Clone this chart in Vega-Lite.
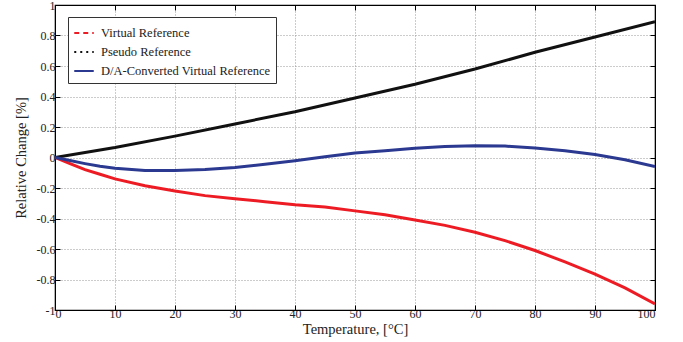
{
  "$schema": "https://vega.github.io/schema/vega-lite/v6.json",
  "width": 600,
  "height": 305,
  "autosize": "none",
  "padding": {"left": 55, "top": 5, "right": 28, "bottom": 32},
  "background": "white",
  "config": {
    "font": "Liberation Serif",
    "view": {"stroke": "#000", "strokeWidth": 1.2},
    "axis": {
      "labelFont": "Liberation Serif", "titleFont": "Liberation Serif",
      "labelFontSize": 12, "titleFontSize": 14.5, "titleFontWeight": "normal",
      "labelColor": "#222", "titleColor": "#222",
      "domainColor": "#000", "tickColor": "#000", "tickSize": -5,
      "gridColor": "#999", "gridDash": [1, 2], "gridWidth": 1
    },
    "legend": {
      "title": null, "orient": "none", "legendX": 13, "legendY": 12,
      "symbolType": "stroke", "symbolSize": 380, "symbolStrokeWidth": 2, "symbolOpacity": 1,
      "labelFont": "Liberation Serif", "labelFontSize": 12.5, "labelColor": "#222",
      "strokeColor": "#333", "fillColor": "white", "padding": 5, "rowPadding": 1,
      "labelLimit": 300, "labelOffset": 6
    }
  },
  "data": {"values": [
    {"t": 0, "v": 0, "s": "Virtual Reference"},
    {"t": 2.5, "v": -0.04, "s": "Virtual Reference"},
    {"t": 5, "v": -0.08, "s": "Virtual Reference"},
    {"t": 7.5, "v": -0.11, "s": "Virtual Reference"},
    {"t": 10, "v": -0.14, "s": "Virtual Reference"},
    {"t": 15, "v": -0.185, "s": "Virtual Reference"},
    {"t": 20, "v": -0.22, "s": "Virtual Reference"},
    {"t": 25, "v": -0.25, "s": "Virtual Reference"},
    {"t": 30, "v": -0.27, "s": "Virtual Reference"},
    {"t": 35, "v": -0.29, "s": "Virtual Reference"},
    {"t": 40, "v": -0.31, "s": "Virtual Reference"},
    {"t": 45, "v": -0.325, "s": "Virtual Reference"},
    {"t": 50, "v": -0.35, "s": "Virtual Reference"},
    {"t": 55, "v": -0.375, "s": "Virtual Reference"},
    {"t": 60, "v": -0.41, "s": "Virtual Reference"},
    {"t": 65, "v": -0.445, "s": "Virtual Reference"},
    {"t": 70, "v": -0.49, "s": "Virtual Reference"},
    {"t": 75, "v": -0.545, "s": "Virtual Reference"},
    {"t": 80, "v": -0.61, "s": "Virtual Reference"},
    {"t": 85, "v": -0.685, "s": "Virtual Reference"},
    {"t": 90, "v": -0.765, "s": "Virtual Reference"},
    {"t": 95, "v": -0.855, "s": "Virtual Reference"},
    {"t": 100, "v": -0.96, "s": "Virtual Reference"},
    {"t": 0, "v": 0, "s": "Pseudo Reference"},
    {"t": 10, "v": 0.065, "s": "Pseudo Reference"},
    {"t": 20, "v": 0.14, "s": "Pseudo Reference"},
    {"t": 30, "v": 0.22, "s": "Pseudo Reference"},
    {"t": 40, "v": 0.30, "s": "Pseudo Reference"},
    {"t": 50, "v": 0.39, "s": "Pseudo Reference"},
    {"t": 60, "v": 0.48, "s": "Pseudo Reference"},
    {"t": 70, "v": 0.58, "s": "Pseudo Reference"},
    {"t": 80, "v": 0.69, "s": "Pseudo Reference"},
    {"t": 90, "v": 0.79, "s": "Pseudo Reference"},
    {"t": 100, "v": 0.89, "s": "Pseudo Reference"},
    {"t": 0, "v": 0, "s": "D/A-Converted Virtual Reference"},
    {"t": 2.5, "v": -0.02, "s": "D/A-Converted Virtual Reference"},
    {"t": 5, "v": -0.04, "s": "D/A-Converted Virtual Reference"},
    {"t": 7.5, "v": -0.058, "s": "D/A-Converted Virtual Reference"},
    {"t": 10, "v": -0.07, "s": "D/A-Converted Virtual Reference"},
    {"t": 15, "v": -0.085, "s": "D/A-Converted Virtual Reference"},
    {"t": 20, "v": -0.085, "s": "D/A-Converted Virtual Reference"},
    {"t": 25, "v": -0.078, "s": "D/A-Converted Virtual Reference"},
    {"t": 30, "v": -0.065, "s": "D/A-Converted Virtual Reference"},
    {"t": 35, "v": -0.045, "s": "D/A-Converted Virtual Reference"},
    {"t": 40, "v": -0.022, "s": "D/A-Converted Virtual Reference"},
    {"t": 45, "v": 0.005, "s": "D/A-Converted Virtual Reference"},
    {"t": 50, "v": 0.03, "s": "D/A-Converted Virtual Reference"},
    {"t": 55, "v": 0.045, "s": "D/A-Converted Virtual Reference"},
    {"t": 60, "v": 0.06, "s": "D/A-Converted Virtual Reference"},
    {"t": 65, "v": 0.072, "s": "D/A-Converted Virtual Reference"},
    {"t": 70, "v": 0.077, "s": "D/A-Converted Virtual Reference"},
    {"t": 75, "v": 0.075, "s": "D/A-Converted Virtual Reference"},
    {"t": 80, "v": 0.062, "s": "D/A-Converted Virtual Reference"},
    {"t": 85, "v": 0.045, "s": "D/A-Converted Virtual Reference"},
    {"t": 90, "v": 0.02, "s": "D/A-Converted Virtual Reference"},
    {"t": 95, "v": -0.015, "s": "D/A-Converted Virtual Reference"},
    {"t": 100, "v": -0.06, "s": "D/A-Converted Virtual Reference"}
  ]},
  "layer": [
    {
      "mark": {"type": "line", "strokeWidth": 3, "clip": true},
      "encoding": {
        "x": {"field": "t", "type": "quantitative", "scale": {"domain": [0, 100], "nice": false},
          "axis": {"title": "Temperature, [°C]", "values": [0,10,20,30,40,50,60,70,80,90,100], "titlePadding": 3, "labelPadding": 3}},
        "y": {"field": "v", "type": "quantitative", "scale": {"domain": [-1, 1], "nice": false},
          "axis": {"title": "Relative Change [%]", "values": [-1,-0.8,-0.6,-0.4,-0.2,0,0.2,0.4,0.6,0.8,1], "labelExpr": "toString(datum.value)", "titlePadding": 8, "labelPadding": 5}},
        "color": {"field": "s", "type": "nominal",
          "scale": {"domain": ["Virtual Reference", "Pseudo Reference", "D/A-Converted Virtual Reference"], "range": ["#ed1c24", "#111111", "#2b3990"]}},
        "detail": {"field": "s"}
      }
    },
    {
      "mark": {"type": "line", "opacity": 0},
      "encoding": {
        "x": {"field": "t", "type": "quantitative", "axis": {"orient": "top", "title": null, "labels": false, "grid": false, "values": [0,10,20,30,40,50,60,70,80,90,100]}},
        "y": {"field": "v", "type": "quantitative", "axis": {"orient": "right", "title": null, "labels": false, "grid": false, "values": [-1,-0.8,-0.6,-0.4,-0.2,0,0.2,0.4,0.6,0.8,1]}},
        "color": {"field": "s", "type": "nominal",
          "scale": {"domain": ["Virtual Reference", "Pseudo Reference", "D/A-Converted Virtual Reference"], "range": ["#ed1c24", "#111111", "#2b3990"]}},
        "strokeDash": {"field": "s", "type": "nominal",
          "scale": {"domain": ["Virtual Reference", "Pseudo Reference", "D/A-Converted Virtual Reference"], "range": [[5, 4], [2, 4], [1, 0]]}}
      }
    }
  ],
  "resolve": {"axis": {"x": "independent", "y": "independent"}}
}
